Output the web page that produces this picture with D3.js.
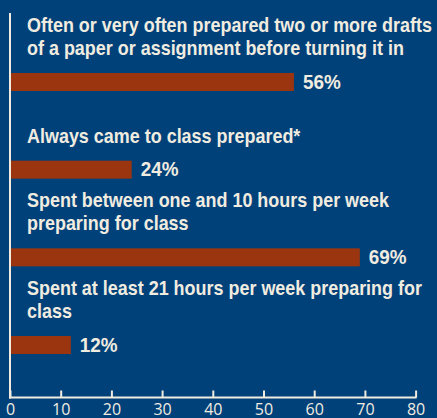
<!DOCTYPE html>
<html><head><meta charset="utf-8">
<script src="https://cdn.jsdelivr.net/npm/d3@7"></script>
<style>
html,body{margin:0;padding:0;background:#00417a;}
svg{display:block;}
</style></head>
<body>
<script>
const categories = [
  ["Often or very often prepared two or more drafts", "of a paper or assignment before turning it in"],
  ["Always came to class prepared*"],
  ["Spent between one and 10 hours per week", "preparing for class"],
  ["Spent at least 21 hours per week preparing for", "class"]
];
const values = [56, 24, 69, 12];
const valueLabels = ["56%", "24%", "69%", "12%"];
const xTicks = [0, 10, 20, 30, 40, 50, 60, 70, 80];

const W = 437, H = 418;
const bg = "#00417a", barColor = "#9a3510", ink = "#f1ece0";
const svg = d3.select("body").append("svg").attr("width", W).attr("height", H);
svg.append("rect").attr("width", W).attr("height", H).attr("fill", bg);

const x = d3.scaleLinear().domain([0, 80]).range([10, 415.6]);
const ids = categories.map((c, i) => i);
const y = d3.scalePoint().domain(ids).range([73, 336]);
const barH = 18;

const labelFont = "'Liberation Sans', Arial, sans-serif";

// bars
svg.selectAll("rect.bar").data(ids).join("rect")
  .attr("class", "bar")
  .attr("x", x(0))
  .attr("y", i => y(i))
  .attr("width", i => x(values[i]) - x(0))
  .attr("height", barH)
  .attr("fill", barColor);

// condensed text helper: horizontally compress text group
const sx = 0.82;
const labelX = 27;

// value labels
const valG = svg.append("g");
valG.selectAll("text.val").data(ids).join("text")
  .attr("class", "val")
  .attr("transform", i => `translate(${x(values[i]) + 9},${y(i) + 15.5}) scale(${sx},1)`)
  .attr("fill", ink)
  .attr("font-family", labelFont)
  .attr("font-weight", "bold")
  .attr("font-size", 20.5)
  .text(i => valueLabels[i]);

// category labels
const lineH = 23;
const catG = svg.append("g").attr("transform", `translate(${labelX},0) scale(${sx},1)`);
const g = catG.selectAll("text.cat").data(ids).join("text")
  .attr("class", "cat")
  .attr("fill", ink)
  .attr("font-family", labelFont)
  .attr("font-weight", "bold")
  .attr("font-size", 19.5);
g.each(function(i) {
  const lines = categories[i];
  const last = y(i) - 18;
  d3.select(this).selectAll("tspan").data(lines).join("tspan")
    .attr("x", 0)
    .attr("y", (d, k) => last - (lines.length - 1 - k) * lineH)
    .text(d => d);
});
// fit the longest line to the reference width
const first = g.filter(i => i === 0).select("tspan").node();
const len = first.getComputedTextLength();
const fit = 405 / len;
catG.attr("transform", `translate(${labelX},0) scale(${fit},1)`);
valG.selectAll("text.val").attr("transform", i => `translate(${x(values[i]) + 9},${y(i) + 15.5}) scale(${fit},1)`);

// axes
const axisY = 397.5;
const axisG = svg.append("g").attr("transform", `translate(0,${axisY})`);
const axis = d3.axisBottom(x).tickValues(xTicks).tickSize(-7).tickPadding(6.5).tickFormat(d3.format("d"));
axisG.call(axis);
axisG.select(".domain").remove();
axisG.selectAll(".tick line").attr("stroke", ink).attr("stroke-width", 2);
axisG.selectAll(".tick text").attr("fill", ink)
  .attr("font-family", "'Open Sans', 'Noto Sans', sans-serif")
  .attr("font-size", 16).attr("dy", "0.71em");
axisG.append("line").attr("x1", x(0) - 1).attr("x2", x(80) + 1).attr("y1", 0).attr("y2", 0)
  .attr("stroke", ink).attr("stroke-width", 2);
svg.append("line").attr("x1", x(0)).attr("x2", x(0)).attr("y1", 13).attr("y2", axisY + 1)
  .attr("stroke", ink).attr("stroke-width", 2);
</script>
</body></html>
